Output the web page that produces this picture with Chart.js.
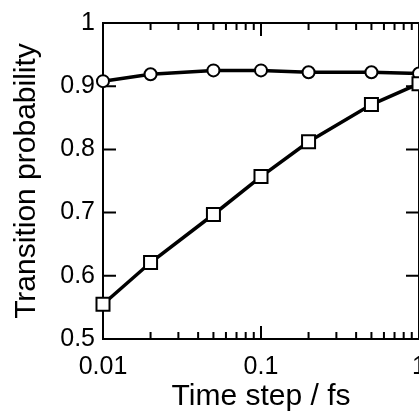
<!DOCTYPE html>
<html>
<head>
<meta charset="utf-8">
<script src="https://cdn.jsdelivr.net/npm/chart.js@4.4.0/dist/chart.umd.min.js"></script>
<style>
	html, body { margin: 0; padding: 0; background: #fff; overflow: hidden; }
	#wrap { width: 470px; height: 415px; }
</style>
</head>
<body>
<div id="wrap"><canvas id="grafico" width="470" height="415"></canvas></div>
<script>
// Dados
const passos = [0.01, 0.02, 0.05, 0.1, 0.2, 0.5, 1];
const probCirculos = [0.908, 0.919, 0.925, 0.925, 0.922, 0.922, 0.92];
const probQuadrados = [0.555, 0.621, 0.697, 0.757, 0.812, 0.871, 0.904];

const ticksX = [0.01, 0.1, 1];
const ticksY = [0.5, 0.6, 0.7, 0.8, 0.9, 1];

const tituloX = "Time step / fs";
const tituloY = "Transition probability";

Chart.defaults.font.family = '"Liberation Sans", Arial, sans-serif';
Chart.defaults.color = "#000";

// Moldura com ticks para dentro (como no original)
const moldura = {
	id: "moldura",
	beforeDatasetsDraw(chart) {
		const { ctx, chartArea: a, scales } = chart;
		const x = scales.x;
		const y = scales.y;
		ctx.save();
		ctx.strokeStyle = "#000";
		ctx.lineWidth = 2;
		ctx.strokeRect(a.left, a.top, a.right - a.left, a.bottom - a.top);

		ctx.beginPath();
		for (let e = -2; e <= 0; e++) {
			for (let k = 1; k <= 9; k++) {
				if (e == 0 && k > 1) break;
				const v = k * Math.pow(10, e);
				const px = x.getPixelForValue(v);
				const len = k == 1 ? 13 : 7;
				ctx.moveTo(px, a.bottom);
				ctx.lineTo(px, a.bottom - len);
				ctx.moveTo(px, a.top);
				ctx.lineTo(px, a.top + len);
			}
		}
		for (let i = 0; i < ticksY.length; i++) {
			const py = y.getPixelForValue(ticksY[i]);
			ctx.moveTo(a.left, py);
			ctx.lineTo(a.left + 13, py);
			ctx.moveTo(a.right, py);
			ctx.lineTo(a.right - 13, py);
		}
		ctx.stroke();
		ctx.restore();
	},
};

const dadosQuadrados = passos.map((p, i) => ({ x: p, y: probQuadrados[i] }));
const dadosCirculos = passos.map((p, i) => ({ x: p, y: probCirculos[i] }));

const config = {
	type: "line",
	data: {
		datasets: [
			{
				label: "quadrados",
				data: dadosQuadrados,
				borderColor: "#000",
				borderWidth: 3.5,
				pointStyle: "rect",
				pointRadius: 9.2,
				pointBorderWidth: 2,
				pointBackgroundColor: "#fff",
				pointBorderColor: "#000",
				clip: false,
			},
			{
				label: "circulos",
				data: dadosCirculos,
				borderColor: "#000",
				borderWidth: 3.5,
				pointStyle: "circle",
				pointRadius: 6,
				pointBorderWidth: 2,
				pointBackgroundColor: "#fff",
				pointBorderColor: "#000",
				clip: false,
			},
		],
	},
	options: {
		responsive: false,
		animation: false,
		layout: { padding: { top: 23, right: 51, left: 0, bottom: 0 } },
		plugins: {
			legend: { display: false },
			tooltip: { enabled: false },
		},
		scales: {
			x: {
				type: "logarithmic",
				position: "bottom",
				min: 0.01,
				max: 1,
				grid: { display: false, drawTicks: false },
				border: { display: false },
				afterBuildTicks: (scale) => {
					scale.ticks = ticksX.map((v) => ({ value: v }));
				},
				afterFit: (scale) => {
					scale.height = 76;
				},
				ticks: {
					font: { size: 25 },
					padding: 13,
					maxRotation: 0,
					autoSkip: false,
					callback: (v) => String(v),
				},
				title: {
					display: true,
					text: tituloX,
					font: { size: 30 },
					padding: { top: 0, bottom: 0 },
				},
			},
			y: {
				type: "linear",
				position: "left",
				min: 0.5,
				max: 1,
				grid: { display: false, drawTicks: false },
				border: { display: false },
				afterBuildTicks: (scale) => {
					scale.ticks = ticksY.map((v) => ({ value: v }));
				},
				afterFit: (scale) => {
					scale.width = 103;
				},
				ticks: {
					font: { size: 25 },
					padding: 8,
					callback: (v) => String(v),
				},
				title: {
					display: true,
					text: tituloY,
					font: { size: 30 },
					padding: { top: 9, bottom: 0 },
				},
			},
		},
	},
	plugins: [moldura],
};

const grafico = new Chart(document.getElementById("grafico"), config);
</script>
</body>
</html>
